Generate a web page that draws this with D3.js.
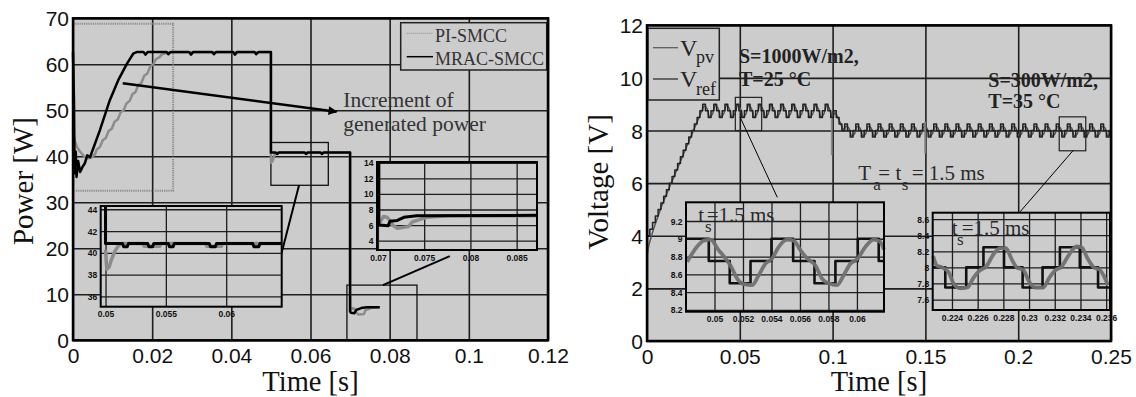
<!DOCTYPE html>
<meta charset="utf-8">
<style>
body { margin: 0; background: #fff; }
svg { display: block; }
.serif { font-family: "Liberation Serif", "Times New Roman", serif; }
</style>
<script src="https://d3js.org/d3.v7.min.js"></script>
<body>
<script>
// ---------- left chart : power ----------
var pTicksX = [0, 0.02, 0.04, 0.06, 0.08, 0.1, 0.12];
var pLabelsX = ["0", "0.02", "0.04", "0.06", "0.08", "0.1", "0.12"];
var pTicksY = [0, 10, 20, 30, 40, 50, 60, 70];
var pLabelsY = ["0", "10", "20", "30", "40", "50", "60", "70"];

// MRAC-SMCC (black) and PI-SMCC (gray), [time s, power W]
var mracMain = [[0,62.6],[0.00025,52],[0.0004,36.3],[0.0007,41],[0.0009,35.5],[0.0013,39],[0.0018,36.6],
  [0.0024,37.7],[0.003,38.5],[0.0036,40.2],[0.0043,39.8],[0.0068,45.7],[0.0093,52.2],[0.0114,56.5],
  [0.0136,60.1],[0.0152,62.3],[0.0162,62.7],[0.0178,62.7],[0.0183,62.1],[0.0189,62.7],[0.0236,62.7],
  [0.0241,62.2],[0.0247,62.7],[0.0293,62.7],[0.0298,62.1],[0.0304,62.7],[0.0351,62.7],[0.0356,62.2],
  [0.0362,62.7],[0.0404,62.7],[0.0409,62.1],[0.0415,62.7],[0.0458,62.7],[0.0463,62.2],[0.0469,62.7],
  [0.05,62.7],[0.05,40.8],[0.0512,40.8],[0.0516,40.5],[0.052,40.8],[0.0585,40.8],[0.0589,40.5],
  [0.0593,40.8],[0.0625,40.8],[0.0629,40.5],[0.0633,40.8],[0.07,40.8],[0.07,6.3],[0.0702,6.0],
  [0.0711,5.9],[0.0716,6.6],[0.0728,7.0],[0.0742,7.2],[0.0775,7.2]];
var piMain = [[0,46],[0.0004,43.5],[0.001,42],[0.0018,41],[0.0028,40],[0.0038,39.5],[0.0048,39.8],
  [0.0056,40.5],[0.006,41.5],[0.0068,42],[0.0075,43.5],[0.0083,44],[0.009,45.5],[0.0098,46],
  [0.0105,47.5],[0.0113,48],[0.012,49.5],[0.0128,50],[0.0135,51.5],[0.0143,52],[0.015,53.5],
  [0.0158,54],[0.0165,55.5],[0.0173,56],[0.018,57.5],[0.0188,58],[0.0195,59.5],[0.0203,60],
  [0.021,61.2],[0.0218,61.5],[0.0225,62.2],[0.0233,62.4],[0.0245,62.6],[0.05,62.6],[0.05,38.6],
  [0.0504,38.9],[0.051,40.5],[0.0515,40.8],[0.07,40.8],[0.07,6.2],[0.0705,7.0],[0.0712,6.8],
  [0.0716,6.0],[0.0721,5.6],[0.0735,5.7],[0.0739,6.6],[0.0753,7.0],[0.0775,7.2]];

// zoom 1 (0.05 s step)
var z1TicksX = [0.05, 0.055, 0.06];
var z1LabelsX = ["0.05", "0.055", "0.06"];
var z1TicksY = [36, 38, 40, 42, 44];
var mracZoom1 = [[0.05,44.3],[0.05,40.85],[0.0514,40.85],[0.0515,40.55],[0.0518,40.55],[0.0519,40.85],
  [0.0535,40.85],[0.0536,40.55],[0.0539,40.55],[0.054,40.85],[0.0552,40.85],[0.0553,40.55],[0.0556,40.55],
  [0.0557,40.85],[0.0586,40.85],[0.0587,40.55],[0.0591,40.55],[0.0592,40.85],[0.0622,40.85],[0.0623,40.55],
  [0.0627,40.55],[0.0628,40.85],[0.0646,40.85]];
var piZoom1 = [[0.05,40.3],[0.0501,38.5],[0.0503,38.7],[0.0505,39.4],[0.0508,40.2],[0.0511,40.7],
  [0.0514,40.85],[0.0531,40.85],[0.0532,40.6],[0.0545,40.6],[0.0546,40.85],[0.0583,40.85],[0.0584,40.6],
  [0.0596,40.6],[0.0597,40.85],[0.0646,40.85]];

// zoom 2 (0.07 s step)
var z2TicksX = [0.07, 0.075, 0.08, 0.085];
var z2LabelsX = ["0.07", "0.075", "0.08", "0.085"];
var z2TicksY = [4, 6, 8, 10, 12, 14];
var mracZoom2 = [[0.0701,14.1],[0.0701,6.0],[0.0711,5.9],[0.0713,6.5],[0.0721,6.6],[0.0728,7.0],
  [0.0742,7.2],[0.0872,7.25]];
var piZoom2 = [[0.07,5.9],[0.0703,6.5],[0.0706,7.1],[0.071,7.0],[0.0713,6.6],[0.0716,6.0],[0.0721,5.6],
  [0.0733,5.8],[0.0737,6.4],[0.0745,6.7],[0.0753,7.0],[0.0775,7.2],[0.0872,7.2]];

// ---------- right chart : voltage ----------
var vTicksX = [0, 0.05, 0.1, 0.15, 0.2, 0.25];
var vLabelsX = ["0", "0.05", "0.1", "0.15", "0.2", "0.25"];
var vTicksY = [0, 2, 4, 6, 8, 10, 12];
var vLabelsY = ["0", "2", "4", "6", "8", "10", "12"];

var stepT = 0.0015;   // 1.5 ms sampling of the MPPT steps
var vrefMain = [
  4, 4.25, 4.5, 4.75, 5, 5.25, 5.5, 5.75, 6, 6.25,
  6.5, 6.75, 7, 7.25, 7.5, 7.75, 8, 8.25, 8.5, 8.75,
  9, 8.75, 8.5, 8.75, 9, 8.75, 8.5, 8.75, 9, 8.75, 8.5, 8.75,
  9, 8.75, 8.5, 8.75, 9, 8.75, 8.5, 8.75, 9, 8.75, 8.5, 8.75,
  9, 8.75, 8.5, 8.75, 9, 8.75, 8.5, 8.75, 9, 8.75, 8.5, 8.75,
  9, 8.75, 8.5, 8.75, 9, 8.75, 8.5, 8.75, 9, 8.75, 8.5,
  8.75, 8.5, 8.25, 8,
  8.25, 8, 7.75, 8, 8.25, 8, 7.75, 8, 8.25, 8, 7.75, 8,
  8.25, 8, 7.75, 8, 8.25, 8, 7.75, 8, 8.25, 8, 7.75, 8,
  8.25, 8, 7.75, 8, 8.25, 8, 7.75, 8, 8.25, 8, 7.75, 8,
  8.25, 8, 7.75, 8, 8.25, 8, 7.75, 8, 8.25, 8, 7.75, 8,
  8.25, 8, 7.75, 8, 8.25, 8, 7.75, 8, 8.25, 8, 7.75, 8,
  8.25, 8, 7.75, 8, 8.25, 8, 7.75, 8, 8.25, 8, 7.75, 8,
  8.25, 8, 7.75, 8, 8.25, 8, 7.75, 8, 8.25, 8, 7.75, 8,
  8.25, 8, 7.75, 8, 8.25, 8, 7.75, 8, 8.25, 8, 7.75, 8];
var vpvStart = [0, 3.2];
var vpvMain = [
  3.55, 3.95, 4.3, 4.6, 4.9, 5.2, 5.45, 5.7, 5.95, 6.2,
  6.45, 6.7, 6.95, 7.2, 7.45, 7.7, 7.95, 8.2, 8.45, 8.7,
  8.92, 8.84, 8.52, 8.62, 8.95, 8.84, 8.52, 8.62, 8.95, 8.84, 8.52, 8.62,
  8.95, 8.84, 8.52, 8.62, 8.95, 8.84, 8.52, 8.62, 8.95, 8.84, 8.52, 8.62,
  8.95, 8.84, 8.52, 8.62, 8.95, 8.84, 8.52, 8.62, 8.95, 8.84, 8.52, 8.62,
  8.95, 8.84, 8.52, 8.62, 8.95, 8.84, 8.52, 8.62, 8.95, 8.84, 8.52,
  8.68, 8.5, 8.28, 8.05,
  8.16, 8.1, 7.8, 7.87, 8.16, 8.1, 7.8, 7.87, 8.16, 8.1, 7.8, 7.87,
  8.16, 8.1, 7.8, 7.87, 8.16, 8.1, 7.8, 7.87, 8.16, 8.1, 7.8, 7.87,
  8.16, 8.1, 7.8, 7.87, 8.16, 8.1, 7.8, 7.87, 8.16, 8.1, 7.8, 7.87,
  8.16, 8.1, 7.8, 7.87, 8.16, 8.1, 7.8, 7.87, 8.16, 8.1, 7.8, 7.87,
  8.16, 8.1, 7.8, 7.87, 8.16, 8.1, 7.8, 7.87, 8.16, 8.1, 7.8, 7.87,
  8.16, 8.1, 7.8, 7.87, 8.16, 8.1, 7.8, 7.87, 8.16, 8.1, 7.8, 7.87,
  8.16, 8.1, 7.8, 7.87, 8.16, 8.1, 7.8, 7.87, 8.16, 8.1, 7.8, 7.87,
  8.16, 8.1, 7.8, 7.87, 8.16, 8.1, 7.8, 7.87, 8.16, 8.1, 7.8, 7.87];
var vpvSpikes = [[0.0995, 8.46, 7.06], [0.1498, 8.33, 7.13]];

// zoom A (1000 W/m2)
var zaTicksX = [0.05, 0.052, 0.054, 0.056, 0.058, 0.06];
var zaLabelsX = ["0.05", "0.052", "0.054", "0.056", "0.058", "0.06"];
var zaTicksY = [8.2, 8.4, 8.6, 8.8, 9, 9.2];
var zaLabelsY = ["8.2", "8.4", "8.6", "8.8", "9", "9.2"];
var vrefZoomA = [[0.048,9],[0.0496,8.75],[0.05107,8.5],[0.05253,8.75],[0.054,9],[0.05552,8.75],
  [0.05702,8.5],[0.05849,8.75],[0.06006,9],[0.06153,8.75],[0.0619,8.75]];
var vpvZoomA = [[0.04808,8.74],[0.04867,8.89],[0.04925,8.98],[0.04972,8.99],[0.0503,8.87],[0.05077,8.78],
  [0.05112,8.70],[0.0516,8.55],[0.05206,8.49],[0.05265,8.48],[0.0531,8.59],[0.05358,8.72],[0.05405,8.78],
  [0.05451,8.91],[0.0551,8.99],[0.05556,8.98],[0.05604,8.87],[0.0565,8.78],[0.05709,8.70],[0.05756,8.55],
  [0.05802,8.50],[0.05861,8.48],[0.05907,8.59],[0.05954,8.72],[0.06001,8.77],[0.0606,8.91],[0.06118,8.99],
  [0.0616,8.97],[0.0619,8.88]];

// zoom B (300 W/m2)
var zbTicksX = [0.224, 0.226, 0.228, 0.23, 0.232, 0.234, 0.236];
var zbLabelsX = ["0.224", "0.226", "0.228", "0.23", "0.232", "0.234", "0.236"];
var zbTicksY = [7.6, 7.8, 8, 8.2, 8.4, 8.6];
var zbLabelsY = ["7.6", "7.8", "8", "8.2", "8.4", "8.6"];
var vrefZoomB = [[0.2225,8],[0.22348,7.75],[0.22511,8],[0.22645,8.25],[0.22805,8],[0.2295,7.75],
  [0.23105,8],[0.2324,8.25],[0.23395,8],[0.23537,7.75],[0.2363,7.75]];
var vpvZoomB = [[0.22253,8.14],[0.22284,8.02],[0.22322,8.0],[0.22374,7.94],[0.22412,7.80],[0.22464,7.74],
  [0.22521,7.75],[0.22567,7.87],[0.22614,7.96],[0.22666,8.01],[0.22722,8.16],[0.22774,8.24],[0.22821,8.24],
  [0.22865,8.10],[0.22904,8.0],[0.22955,7.97],[0.22994,7.84],[0.23046,7.75],[0.2311,7.75],[0.23157,7.87],
  [0.23201,7.96],[0.23253,8.01],[0.23312,8.16],[0.23369,8.26],[0.23408,8.25],[0.23459,8.10],[0.23503,8.0],
  [0.2355,7.97],[0.23614,7.78]];

// ---------- drawing ----------
var bgGray = "#cccccc", gridColor = "#1e1e1e";
var svg = d3.select("body").append("svg").attr("width", 1136).attr("height", 397);

svg.append("defs").append("marker")
    .attr("id", "arr").attr("viewBox", "0 0 10 10").attr("refX", 9).attr("refY", 5)
    .attr("markerUnits", "userSpaceOnUse").attr("markerWidth", 13).attr("markerHeight", 9)
    .attr("orient", "auto")
  .append("path").attr("d", "M0,0L10,5L0,10z").attr("fill", "#000");

// background + grid + tick labels for one plot box
function gridBox(x, y, xT, xL, yT, yL, o) {
  var g = svg.append("g");
  var x0 = x.range()[0], x1 = x.range()[1], y0 = y.range()[1], y1 = y.range()[0];
  g.append("rect").attr("x", x0).attr("y", y0).attr("width", x1 - x0).attr("height", y1 - y0)
    .attr("fill", bgGray);
  g.append("g").attr("transform", "translate(0," + y1 + ")")
    .call(d3.axisBottom(x).tickValues(xT).tickFormat(function(d, i) { return xL[i]; })
      .tickSize(-(y1 - y0)).tickPadding(o.padX));
  g.append("g").attr("transform", "translate(" + x0 + ",0)")
    .call(d3.axisLeft(y).tickValues(yT).tickFormat(function(d, i) { return yL[i]; })
      .tickSize(-(x1 - x0)).tickPadding(o.padY));
  g.selectAll(".domain").remove();
  g.selectAll(".tick line").attr("stroke", gridColor).attr("stroke-width", o.grid);
  g.selectAll(".tick text").attr("fill", "#111").style("font", o.font);
  g.selectAll("g.tick text").filter(function() { return d3.select(this).attr("dy") === "0.32em"; })
    .attr("dy", "0.36em");
  return g;
}
function frame(x, y, w) {
  svg.append("rect").attr("x", x.range()[0]).attr("y", y.range()[1])
    .attr("width", x.range()[1] - x.range()[0]).attr("height", y.range()[0] - y.range()[1])
    .attr("fill", "none").attr("stroke", "#000").attr("stroke-width", w);
}
function curve(x, y, data, color, width, type, dash) {
  var p = svg.append("path").datum(data)
    .attr("d", d3.line().x(function(d) { return x(d[0]); }).y(function(d) { return y(d[1]); }).curve(type))
    .attr("fill", "none").attr("stroke", color).attr("stroke-width", width)
    .attr("stroke-linejoin", "round");
  if (dash) p.attr("stroke-dasharray", dash);
  return p;
}
function rectData(x, y, t0, t1, v0, v1, color, width, dash) {
  var r = svg.append("rect").attr("x", x(t0)).attr("y", y(v1))
    .attr("width", x(t1) - x(t0)).attr("height", y(v0) - y(v1))
    .attr("fill", "none").attr("stroke", color).attr("stroke-width", width);
  if (dash) r.attr("stroke-dasharray", dash);
}
function segData(x, y, a, b, width, marker) {
  var l = svg.append("line").attr("x1", x(a[0])).attr("y1", y(a[1])).attr("x2", x(b[0])).attr("y2", y(b[1]))
    .attr("stroke", "#000").attr("stroke-width", width);
  if (marker) l.attr("marker-end", "url(#arr)");
}

var mainFont = "21px 'Liberation Sans', Arial, sans-serif";
var insetFont = "bold 8.5px 'Liberation Sans', Arial, sans-serif";

// ===== left panel =====
var xP = d3.scaleLinear().domain([0, 0.12]).range([73, 548]);
var yP = d3.scaleLinear().domain([0, 70]).range([340.3, 18.3]);
gridBox(xP, yP, pTicksX, pLabelsX, pTicksY, pLabelsY, {padX: 8, padY: 4, grid: 1.6, font: mainFont});

rectData(xP, yP, 0, 0.0253, 32.5, 68.8, "#8a8a8a", 2, "1.2,1");
rectData(xP, yP, 0.05, 0.0645, 33.7, 43, "#111", 1.3);
rectData(xP, yP, 0.0692, 0.0869, 0, 12, "#111", 1.3);
curve(xP, yP, piMain, "#8c8c8c", 2.5, d3.curveLinear);
curve(xP, yP, mracMain, "#000", 2.5, d3.curveLinear);
segData(xP, yP, [0.0571, 33.7], [0.05255, 18.5], 2);
segData(xP, yP, [0.0783, 12.0], [0.0952, 18.3], 2);

// inset 1
var x1z = d3.scaleLinear().domain([0.0496, 0.0646]).range([100.7, 281.7]);
var y1z = d3.scaleLinear().domain([35.05, 44.3]).range([306.7, 206]);
gridBox(x1z, y1z, z1TicksX, z1LabelsX, z1TicksY, z1TicksY.map(String), {padX: 4.5, padY: 3.5, grid: 1.3, font: insetFont});
curve(x1z, y1z, piZoom1, "#8c8c8c", 3.5, d3.curveLinear);
curve(x1z, y1z, mracZoom1, "#000", 3, d3.curveLinear);
frame(x1z, y1z, 2);

// inset 2
var x2z = d3.scaleLinear().domain([0.0699, 0.0872]).range([377, 537]);
var y2z = d3.scaleLinear().domain([2.8, 14.1]).range([250, 162]);
gridBox(x2z, y2z, z2TicksX, z2LabelsX, z2TicksY, z2TicksY.map(String), {padX: 4.5, padY: 3.5, grid: 1.3, font: insetFont});
curve(x2z, y2z, piZoom2, "#8c8c8c", 3.5, d3.curveLinear);
curve(x2z, y2z, mracZoom2, "#000", 3, d3.curveLinear);
frame(x2z, y2z, 2);

// legend
svg.append("rect").attr("x", 400.7).attr("y", 22.7).attr("width", 146).attr("height", 47.3)
  .attr("fill", bgGray).attr("stroke", "#222").attr("stroke-width", 1.5);
svg.append("line").attr("x1", 406.7).attr("x2", 433).attr("y1", 33.3).attr("y2", 33.3)
  .attr("stroke", "#999").attr("stroke-width", 1.2).attr("stroke-dasharray", "1,1");
svg.append("line").attr("x1", 406.7).attr("x2", 433).attr("y1", 56.7).attr("y2", 56.7)
  .attr("stroke", "#000").attr("stroke-width", 1.5);
svg.append("text").attr("class", "serif").attr("x", 435).attr("y", 42).attr("font-size", 18)
  .attr("fill", "#333").text("PI-SMCC");
svg.append("text").attr("class", "serif").attr("x", 435).attr("y", 65).attr("font-size", 18)
  .attr("fill", "#333").text("MRAC-SMCC");

// annotation arrow
segData(xP, yP, [0.01256, 55.9], [0.0666, 49.7], 2.5, true);
svg.append("text").attr("class", "serif").attr("x", 343.3).attr("y", 106.7).attr("font-size", 21.5)
  .attr("fill", "#333").text("Increment of");
svg.append("text").attr("class", "serif").attr("x", 343.3).attr("y", 130.7).attr("font-size", 21.5)
  .attr("fill", "#333").text("generated power");

frame(xP, yP, 2.5);
svg.append("text").attr("class", "serif").attr("transform", "translate(33,181) rotate(-90)")
  .attr("text-anchor", "middle").attr("font-size", 29).attr("fill", "#111").text("Power [W]");
svg.append("text").attr("class", "serif").attr("x", 310.5).attr("y", 391)
  .attr("text-anchor", "middle").attr("font-size", 28.5).attr("fill", "#111").text("Time [s]");

// ===== right panel =====
var xV = d3.scaleLinear().domain([0, 0.25]).range([647, 1111]);
var yV = d3.scaleLinear().domain([0, 12]).range([341, 25.3]);
gridBox(xV, yV, vTicksX, vLabelsX, vTicksY, vLabelsY, {padX: 8, padY: 4, grid: 1.6, font: mainFont});

svg.append("clipPath").attr("id", "clipV").append("rect")
  .attr("x", 647).attr("y", 25.3).attr("width", 464).attr("height", 315.7);

var refPts = vrefMain.map(function(v, k) { return [k * stepT, v]; });
refPts.push([vrefMain.length * stepT, vrefMain[vrefMain.length - 1]]);
var pvPts = [vpvStart].concat(vpvMain.map(function(v, k) { return [(k + 0.5) * stepT, v]; }));
curve(xV, yV, pvPts, "#555", 1.5, d3.curveMonotoneX).attr("clip-path", "url(#clipV)");
curve(xV, yV, refPts, "#222", 1.5, d3.curveStepAfter).attr("clip-path", "url(#clipV)");
vpvSpikes.forEach(function(s) {
  svg.append("line").attr("x1", xV(s[0])).attr("x2", xV(s[0])).attr("y1", yV(s[1])).attr("y2", yV(s[2]))
    .attr("stroke", "#8a8a8a").attr("stroke-width", 1.6);
});

rectData(xV, yV, 0.0476, 0.0618, 8.0, 9.26, "#222", 1.2);
rectData(xV, yV, 0.2221, 0.2364, 7.23, 8.52, "#222", 1.2);
segData(xV, yV, [0.0501, 8.52], [0.0702, 5.46], 1);
segData(xV, yV, [0.2297, 7.25], [0.201, 4.91], 1);

function subText(base, parts) {
  var t = svg.append("text").attr("class", "serif").attr("fill", "#2a2a2a");
  parts.forEach(function(p) {
    t.append("tspan").attr("x", p[0]).attr("y", base + (p[2] ? 10 : 0))
      .attr("font-size", p[2] ? 17 : 21).text(p[1]);
  });
}

// inset A
var xAz = d3.scaleLinear().domain([0.0480, 0.0619]).range([686, 884]);
var yAz = d3.scaleLinear().domain([8.18, 9.41]).range([311.7, 202.3]);
gridBox(xAz, yAz, zaTicksX, zaLabelsX, zaTicksY, zaLabelsY, {padX: 4.5, padY: 3.5, grid: 1.3, font: insetFont});
curve(xAz, yAz, vrefZoomA, "#111", 2.6, d3.curveStepAfter);
curve(xAz, yAz, vpvZoomA, "#707070", 3.8, d3.curveMonotoneX).attr("stroke-opacity", 0.95);
subText(221.7, [[698.3, "t"], [705, "s", true], [706.7, "=1.5 ms"]]);
frame(xAz, yAz, 2);

// inset B
var xBz = d3.scaleLinear().domain([0.2225, 0.2363]).range([932.7, 1110]);
var yBz = d3.scaleLinear().domain([7.47, 8.68]).range([310, 212.7]);
gridBox(xBz, yBz, zbTicksX, zbLabelsX, zbTicksY, zbLabelsY, {padX: 4.5, padY: 3.5, grid: 1.3, font: insetFont});
curve(xBz, yBz, vrefZoomB, "#111", 2.6, d3.curveStepAfter);
curve(xBz, yBz, vpvZoomB, "#707070", 3.8, d3.curveMonotoneX).attr("stroke-opacity", 0.95);
subText(235, [[951.7, "t"], [957, "s", true], [961.7, "=1.5 ms"]]);
frame(xBz, yBz, 2);

// legend
svg.append("rect").attr("x", 648).attr("y", 28.3).attr("width", 71.3).attr("height", 71.7)
  .attr("fill", bgGray).attr("stroke", "#222").attr("stroke-width", 1.5);
svg.append("line").attr("x1", 653).attr("x2", 678).attr("y1", 47.7).attr("y2", 47.7)
  .attr("stroke", "#555").attr("stroke-width", 1.2);
svg.append("line").attr("x1", 653).attr("x2", 678).attr("y1", 79).attr("y2", 79)
  .attr("stroke", "#222").attr("stroke-width", 1.2);
var lg1 = svg.append("text").attr("class", "serif").attr("fill", "#222");
lg1.append("tspan").attr("x", 680).attr("y", 55.5).attr("font-size", 24).text("V");
lg1.append("tspan").attr("x", 696).attr("y", 63).attr("font-size", 18).text("pv");
var lg2 = svg.append("text").attr("class", "serif").attr("fill", "#222");
lg2.append("tspan").attr("x", 680).attr("y", 87.3).attr("font-size", 24).text("V");
lg2.append("tspan").attr("x", 696).attr("y", 95).attr("font-size", 18).text("ref");

// condition labels
[["S=1000W/m2,", 739, 63.3], ["T=25 °C", 739, 86], ["S=300W/m2,", 988.3, 87.3], ["T=35 °C", 988.3, 108.3]]
  .forEach(function(a) {
    svg.append("text").attr("class", "serif").attr("x", a[1]).attr("y", a[2]).attr("font-size", 20)
      .attr("font-weight", "bold").attr("fill", "#222").text(a[0]);
  });
subText(180, [[858.3, "T"], [873.3, "a", true], [878.3, "= t"], [901.7, "s", true], [911.7, "= 1.5 ms"]]);

frame(xV, yV, 2.5);
svg.append("text").attr("class", "serif").attr("transform", "translate(608,182) rotate(-90)")
  .attr("text-anchor", "middle").attr("font-size", 29).attr("fill", "#111").text("Voltage [V]");
svg.append("text").attr("class", "serif").attr("x", 879).attr("y", 391)
  .attr("text-anchor", "middle").attr("font-size", 28.5).attr("fill", "#111").text("Time [s]");
</script>
</body>
